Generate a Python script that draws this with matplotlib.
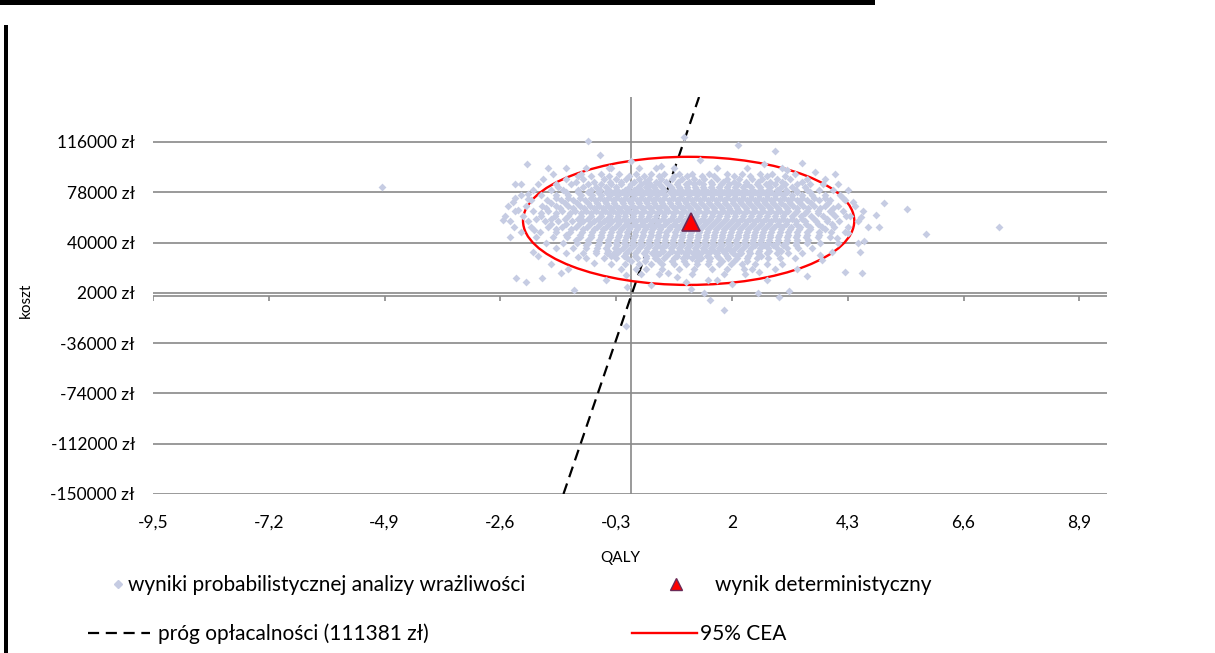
import matplotlib.pyplot as plt
import numpy as np
from matplotlib.patches import Ellipse, Rectangle
from matplotlib.lines import Line2D

plt.rcParams['font.family'] = ['Lato', 'DejaVu Sans']

# wyniki PSA - punkty na brzegach chmury (QALY, koszt w tys. zł)
psa_edge_qaly = [-4.95, -0.85, -0.63, -2.07, -1.65, 0.0, 1.05, 2.12, 2.85, 1.37, 2.64, 3.64,
                 4.04, 4.2, 4.4, 5.03, 5.47, 4.27, 4.87, 4.57, 4.93, 7.3, 5.86, 4.31, 4.08,
                 4.5, 4.62, 4.55, 3.98, 4.25, 4.59, 3.78, 3.74, -2.33, -1.93, -1.95, -1.85,
                 -2.29, -2.09, -1.77, -1.13, -1.25, -1.05, -0.34, -0.1, -0.08, -0.74, -0.1,
                 1.85, 1.57, 1.45, 1.19, 2.52, 2.94, 3.14, 1.09, 1.53, 1.7, 0.73, 2.54, 2.23,
                 -2.5, -2.55, -2.3, -2.2, -2.05, 0.4, 0.9, 2.0, 2.7, 3.3, 3.5, -0.5, 0.1,
                 -1.4, -1.6, -2.4, -1.05, -0.4, 0.6, 3.4, 3.1, -2.35, -2.05, -2.25]
psa_edge_cost = [82, 117, 106, 99, 96, 102, 120, 114, 109, 102.5, 99, 93,
                 92, 74, 71, 70, 65, 60, 61, 59, 52, 52, 46.6, 47, 43.5,
                 40, 41, 33, 33, 18, 17, 27, 30.7, 52, 49.6, 33, 30,
                 13.3, 10.3, 13.3, 4.3, 20, 29, 32, 15.6, 6.5, 24.7, -23,
                 -10.8, -3.3, 2, 5, 2, -1, 3.5, 10, 11.8, 12, 17, 18, 20,
                 60, 57, 74, 84, 77, 8, 14, 9, 12, 20, 15, 12, 20,
                 17, 24, 44, 90, 96, 98, 100, 95, 70.7, 73, 64.7]

# gęsta część chmury: poziom kosztu (tys. zł) -> wartości QALY
psa_rows = {
    96: [-1.3, -0.9, -0.45, 0.15, 0.5, 0.85, 1.7, 2.3, 3.0],
    92: [-1.55, -1.0, -0.6, -0.25, 0.1, 0.4, 0.65, 0.95, 1.2, 1.55, 1.9, 2.2, 2.55, 2.8, 3.25],
    90: [-0.8, -0.45, -0.05, 0.25, 0.55, 0.85, 1.1, 1.4, 1.65, 2.05, 2.35, 2.7, 3.05],
    88: [-1.75, -1.3, -0.95, -0.55, -0.3, -0.1, 0.15, 0.35, 0.6, 0.8, 1.0, 1.25, 1.45, 1.7,
         1.9, 2.15, 2.4, 2.6, 2.9, 3.15, 3.5, 3.85],
    86: [-1.1, -0.75, -0.42, -0.2, 0.05, 0.28, 0.5, 0.7, 0.92, 1.15, 1.35, 1.58, 1.82, 2.05,
         2.28, 2.52, 2.76, 3.0, 3.4],
    84: [-2.3, -1.85, -1.5, -1.2, -0.85, -0.6, -0.4, -0.2, 0.0, 0.2, 0.38, 0.55, 0.72, 0.9,
         1.08, 1.25, 1.42, 1.6, 1.78, 1.95, 2.12, 2.3, 2.5, 2.68, 2.85, 3.05, 3.3, 3.55, 3.8, 4.1],
    82: [-1.45, -0.95, -0.7, -0.5, -0.3, -0.05, 0.14, 0.3, 0.46, 0.62, 0.78, 0.94, 1.1, 1.26,
         1.42, 1.58, 1.74, 1.9, 2.06, 2.22, 2.38, 2.56, 2.75, 2.98, 3.2, 3.45],
    80: [-1.95, -1.6, -1.35, -1.05, -0.8, -0.62, -0.45, -0.28, -0.12, 0.05, 0.2, 0.36, 0.5,
         0.66, 0.82, 0.98, 1.13, 1.3, 1.46, 1.62, 1.77, 1.92, 2.08, 2.24, 2.4, 2.56, 2.72,
         2.9, 3.08, 3.28, 3.5, 3.72, 4.0, 4.3],
    78: [-1.3, -1.05, -0.85, -0.66, -0.5, -0.34, -0.18, -0.02, 0.14, 0.3, 0.44, 0.6, 0.76,
         0.9, 1.06, 1.22, 1.38, 1.53, 1.68, 1.84, 2.0, 2.14, 2.3, 2.46, 2.62, 2.78, 2.94,
         3.1, 3.3, 3.55],
    76: [-2.2, -1.8, -1.5, -1.25, -1.0, -0.78, -0.6, -0.42, -0.26, -0.1, 0.06, 0.22, 0.37,
         0.52, 0.68, 0.83, 0.98, 1.14, 1.3, 1.45, 1.6, 1.76, 1.92, 2.07, 2.22, 2.38, 2.54,
         2.7, 2.86, 3.02, 3.2, 3.4, 3.6, 3.85, 4.15],
    74: [-1.5, -1.25, -1.02, -0.8, -0.63, -0.47, -0.3, -0.13, 0.03, 0.2, 0.35, 0.5, 0.66,
         0.82, 0.97, 1.12, 1.28, 1.44, 1.6, 1.76, 1.91, 2.06, 2.22, 2.38, 2.53, 2.7, 2.86,
         3.03, 3.2, 3.4, 3.62, 3.85],
    72: [-2.0, -1.68, -1.4, -1.15, -0.92, -0.72, -0.54, -0.36, -0.2, -0.04, 0.12, 0.28, 0.43,
         0.58, 0.74, 0.9, 1.05, 1.2, 1.36, 1.52, 1.68, 1.84, 2.0, 2.15, 2.3, 2.46, 2.62,
         2.78, 2.95, 3.12, 3.3, 3.5, 3.72, 3.95, 4.25],
    70: [-1.6, -1.32, -1.08, -0.86, -0.68, -0.5, -0.34, -0.17, -0.01, 0.15, 0.31, 0.46, 0.62,
         0.77, 0.93, 1.08, 1.23, 1.39, 1.55, 1.71, 1.86, 2.02, 2.17, 2.33, 2.49, 2.65, 2.81,
         2.98, 3.16, 3.36, 3.58, 3.9],
    68: [-2.45, -2.1, -1.78, -1.5, -1.25, -1.02, -0.82, -0.64, -0.46, -0.3, -0.14, 0.02, 0.18,
         0.34, 0.5, 0.65, 0.8, 0.96, 1.12, 1.28, 1.44, 1.6, 1.76, 1.92, 2.08, 2.24, 2.4,
         2.56, 2.72, 2.88, 3.05, 3.22, 3.42, 3.62, 3.85, 4.1, 4.45],
    66: [-1.7, -1.42, -1.16, -0.94, -0.75, -0.57, -0.4, -0.24, -0.08, 0.08, 0.24, 0.39, 0.55,
         0.7, 0.86, 1.02, 1.17, 1.33, 1.48, 1.64, 1.8, 1.95, 2.11, 2.27, 2.43, 2.59, 2.75,
         2.92, 3.1, 3.3, 3.52, 3.75, 4.0],
    64: [-2.3, -1.95, -1.65, -1.38, -1.12, -0.9, -0.7, -0.52, -0.36, -0.2, -0.05, 0.1, 0.26,
         0.42, 0.57, 0.72, 0.88, 1.04, 1.2, 1.35, 1.5, 1.66, 1.82, 1.98, 2.14, 2.3, 2.46,
         2.62, 2.78, 2.95, 3.12, 3.3, 3.5, 3.7, 3.95, 4.2, 4.6],
    62: [-1.8, -1.5, -1.22, -0.99, -0.79, -0.61, -0.44, -0.28, -0.12, 0.04, 0.2, 0.35, 0.51,
         0.66, 0.82, 0.98, 1.13, 1.29, 1.44, 1.6, 1.76, 1.91, 2.07, 2.23, 2.39, 2.55, 2.71,
         2.88, 3.06, 3.25, 3.46, 3.7, 3.98],
    60: [-2.15, -1.8, -1.52, -1.25, -1.0, -0.8, -0.6, -0.43, -0.27, -0.12, 0.04, 0.2, 0.35,
         0.5, 0.66, 0.82, 0.98, 1.13, 1.28, 1.44, 1.6, 1.75, 1.9, 2.06, 2.22, 2.38, 2.54,
         2.7, 2.86, 3.02, 3.2, 3.38, 3.58, 3.8, 4.05, 4.35],
    58: [-1.9, -1.6, -1.32, -1.06, -0.85, -0.66, -0.48, -0.31, -0.15, 0.01, 0.17, 0.32, 0.48,
         0.63, 0.79, 0.95, 1.1, 1.26, 1.42, 1.57, 1.73, 1.89, 2.04, 2.2, 2.36, 2.52, 2.68,
         2.85, 3.02, 3.2, 3.4, 3.62, 3.88],
    56: [-2.4, -2.05, -1.72, -1.45, -1.18, -0.95, -0.74, -0.55, -0.38, -0.22, -0.06, 0.1,
         0.26, 0.41, 0.56, 0.72, 0.88, 1.04, 1.36, 1.52, 1.68, 1.84, 2.0, 2.15, 2.3, 2.46,
         2.62, 2.78, 2.94, 3.1, 3.28, 3.46, 3.66, 3.88, 4.12, 4.5],
    54: [-1.6, -1.3, -1.04, -0.82, -0.62, -0.44, -0.27, -0.11, 0.05, 0.21, 0.37, 0.52, 0.68,
         0.84, 1.0, 1.15, 1.31, 1.47, 1.63, 1.79, 1.94, 2.1, 2.26, 2.42, 2.58, 2.74, 2.91,
         3.08, 3.27, 3.47, 3.7, 3.98],
    52: [-2.0, -1.65, -1.38, -1.1, -0.88, -0.68, -0.5, -0.33, -0.17, -0.02, 0.14, 0.3, 0.45,
         0.6, 0.76, 0.92, 1.08, 1.24, 1.4, 1.56, 1.72, 1.88, 2.04, 2.2, 2.36, 2.52, 2.68,
         2.84, 3.0, 3.18, 3.36, 3.56, 3.78, 4.02, 4.3, 4.7],
    50: [-1.5, -1.2, -0.96, -0.75, -0.56, -0.38, -0.21, -0.05, 0.11, 0.27, 0.42, 0.58, 0.74,
         0.9, 1.05, 1.21, 1.37, 1.53, 1.69, 1.84, 2.0, 2.16, 2.32, 2.48, 2.64, 2.8, 2.97,
         3.15, 3.34, 3.56, 3.85],
    48: [-2.2, -1.82, -1.5, -1.22, -0.98, -0.78, -0.58, -0.4, -0.24, -0.08, 0.08, 0.24, 0.4,
         0.55, 0.7, 0.86, 1.02, 1.18, 1.34, 1.5, 1.66, 1.82, 1.98, 2.14, 2.3, 2.46, 2.62,
         2.78, 2.95, 3.12, 3.3, 3.5, 3.72, 3.96, 4.25],
    46: [-1.3, -1.02, -0.8, -0.6, -0.42, -0.25, -0.09, 0.07, 0.23, 0.39, 0.54, 0.7, 0.86,
         1.01, 1.17, 1.33, 1.49, 1.65, 1.8, 1.96, 2.12, 2.28, 2.44, 2.6, 2.76, 2.93, 3.11,
         3.3, 3.5, 3.72],
    44: [-1.9, -1.55, -1.28, -1.02, -0.8, -0.6, -0.42, -0.26, -0.1, 0.06, 0.22, 0.38, 0.53,
         0.68, 0.84, 1.0, 1.16, 1.32, 1.48, 1.64, 1.8, 1.96, 2.12, 2.28, 2.44, 2.6, 2.76,
         2.92, 3.1, 3.28, 3.48, 3.7, 3.95],
    42: [-1.1, -0.86, -0.65, -0.46, -0.29, -0.12, 0.04, 0.2, 0.36, 0.51, 0.67, 0.83, 0.99,
         1.14, 1.3, 1.46, 1.62, 1.78, 1.93, 2.09, 2.25, 2.41, 2.57, 2.74, 2.92, 3.1, 3.3, 3.52],
    40: [-1.7, -1.35, -1.08, -0.85, -0.65, -0.47, -0.3, -0.14, 0.02, 0.18, 0.34, 0.5, 0.65,
         0.8, 0.96, 1.12, 1.28, 1.44, 1.6, 1.76, 1.92, 2.08, 2.24, 2.4, 2.56, 2.72, 2.9,
         3.08, 3.28, 3.5, 3.75, 4.1],
    38: [-0.9, -0.66, -0.46, -0.28, -0.11, 0.05, 0.21, 0.37, 0.53, 0.69, 0.85, 1.0, 1.16,
         1.32, 1.48, 1.64, 1.8, 1.96, 2.12, 2.28, 2.45, 2.63, 2.82, 3.02, 3.28],
    36: [-1.5, -1.15, -0.9, -0.68, -0.5, -0.33, -0.17, -0.01, 0.15, 0.31, 0.47, 0.62, 0.78,
         0.94, 1.1, 1.26, 1.42, 1.58, 1.74, 1.9, 2.06, 2.22, 2.38, 2.55, 2.72, 2.9, 3.1,
         3.32, 3.6],
    34: [-0.7, -0.46, -0.25, -0.06, 0.12, 0.3, 0.47, 0.64, 0.81, 0.98, 1.14, 1.31, 1.48,
         1.65, 1.82, 1.99, 2.16, 2.34, 2.53, 2.74, 2.98],
    32: [-1.3, -0.95, -0.7, -0.48, -0.28, -0.1, 0.08, 0.25, 0.42, 0.58, 0.74, 0.9, 1.06,
         1.22, 1.38, 1.54, 1.7, 1.86, 2.02, 2.18, 2.35, 2.52, 2.7, 2.9, 3.12, 3.4],
    30: [-0.4, -0.15, 0.08, 0.3, 0.5, 0.7, 0.9, 1.1, 1.3, 1.5, 1.7, 1.9, 2.1, 2.32, 2.58],
    28: [-0.9, -0.55, -0.3, -0.08, 0.12, 0.3, 0.48, 0.66, 0.84, 1.02, 1.2, 1.38, 1.56, 1.74,
         1.92, 2.1, 2.3, 2.5, 2.72, 2.95, 3.25],
    26: [0.0, 0.28, 0.55, 0.8, 1.05, 1.3, 1.55, 1.8, 2.05, 2.3],
    24: [-0.4, -0.12, 0.15, 0.4, 0.62, 0.85, 1.08, 1.3, 1.52, 1.75, 1.98, 2.2, 2.45, 2.7, 3.0],
    20: [-0.2, 0.3, 0.62, 0.95, 1.25, 1.6, 1.9, 2.4, 2.85],
    16: [0.2, 0.55, 1.2, 1.85, 2.25],
}

det_qaly = 1.19
det_cost = 55600
threshold = 111381          # zł / QALY
ell_center = (1.14, 56400)
ell_width = 6.58
ell_height = 96800

xticks = [-9.5, -7.2, -4.9, -2.6, -0.3, 2, 4.3, 6.6, 8.9]
yticks = [-150000, -112000, -74000, -36000, 2000, 40000, 78000, 116000]

qaly = list(psa_edge_qaly)
cost = [c * 1000 for c in psa_edge_cost]
for c, xs in psa_rows.items():
    qaly += xs
    cost += [c * 1000] * len(xs)

W, H = 1215, 653
fig = plt.figure(figsize=(W / 100, H / 100), dpi=100)
ax = fig.add_axes([153 / W, 1 - 494 / H, (1107 - 153) / W, (494 - 97) / H])

grey = '#898989'
ax.set_xlim(-9.5, 9.45)
ax.set_ylim(-150000, 150000)
for s in ax.spines.values():
    s.set_visible(False)

ax.set_yticks(yticks, labels=[f'{v} zł' for v in yticks])
ax.set_xticks(xticks, labels=[f'{v:g}'.replace('.', ',') for v in xticks])
ax.tick_params(axis='y', length=0, pad=13, labelsize=12.5)
ax.tick_params(axis='x', length=0, pad=15, labelsize=12.5)
ax.yaxis.grid(True, color=grey, lw=1.2, zorder=0)
ax.set_axisbelow(True)

# osie przecinające się w (0, 0)
ax.axhline(0, color=grey, lw=1.2, zorder=1)
ax.axvline(0, color=grey, lw=1.2, zorder=1)
ax.vlines(xticks, 0, -4500, color=grey, lw=1.2, zorder=1)

q = np.array([-150000, 150000]) / threshold
ax.plot(q, q * threshold, color='black', lw=1.6, ls=(0, (5, 3)), zorder=2)
ax.add_patch(Ellipse(ell_center, ell_width, ell_height, fill=False,
                     edgecolor='#ff0000', lw=1.7, zorder=3))
ax.scatter(qaly, cost, marker='D', s=16, color='#c6cce3', linewidths=0, zorder=4)
ax.plot([det_qaly], [det_cost], marker='^', ms=13, color='#ff0000',
        markeredgecolor='#6b2a57', mew=1.2, ls='none', zorder=5)

ax.set_xlabel('QALY', fontsize=11)
ax.set_ylabel('koszt', fontsize=11)
ax.xaxis.set_label_coords((620 - 153) / 954, (494 - 551) / 397)
ax.yaxis.set_label_coords((33 - 153) / 954, (494 - 300) / 397)

# legenda pod wykresem
handles = [
    Line2D([], [], marker='D', ms=3.6, color='#c6cce3', ls='none'),
    Line2D([], [], color='black', lw=1.6, ls=(0, (5, 3))),
    Line2D([], [], marker='^', ms=9, color='#ff0000', markeredgecolor='#6b2a57', ls='none'),
    Line2D([], [], color='#ff0000', lw=1.7),
]
labels = ['wyniki probabilistycznej analizy wrażliwości', 'próg opłacalności (111381 zł)',
          'wynik deterministyczny', '95% CEA']
# (lewy brzeg symbolu, długość symbolu, początek tekstu, y) w pikselach
spots = [(108, 20, 128, 585), (88, 62, 158, 634), (666, 20, 715, 585), (632, 65, 700, 634)]
fs = 15
fpx = fs * 100 / 72
for h, lab, (x0, hl, tx, y) in zip(handles, labels, spots):
    fig.legend(handles=[h], labels=[lab], loc='center left', frameon=False,
               bbox_to_anchor=(x0 / W, 1 - y / H), borderpad=0, borderaxespad=0,
               handlelength=hl / fpx, handletextpad=(tx - x0 - hl) / fpx, fontsize=fs)

# czarne krawędzie ramki
fig.add_artist(Rectangle((0, 1 - 5 / H), 875 / W, 5 / H, transform=fig.transFigure,
                         color='black', lw=0))
fig.add_artist(Rectangle((4 / W, 0), 4 / W, (H - 25) / H, transform=fig.transFigure,
                         color='black', lw=0))

fig.savefig('out.png', dpi=100)
